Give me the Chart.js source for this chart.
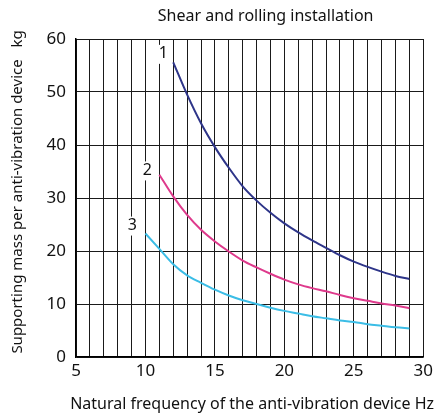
<!DOCTYPE html>
<html>
<head>
<meta charset="utf-8">
<script src="https://cdn.jsdelivr.net/npm/chart.js@4"></script>
<style>
  html, body { margin: 0; padding: 0; background: #fff; }
  #wrap { width: 437px; height: 416px; }
</style>
</head>
<body>
<div id="wrap"><canvas id="c" width="437" height="416"></canvas></div>
<script>
// values
const freq1 = [12, 13, 14, 15, 16, 17, 18, 19, 20, 21, 22, 23, 24, 25, 26, 27, 28, 29];
const mass1 = [55.6, 49.5, 44.1, 39.6, 35.7, 32.2, 29.5, 27.2, 25.2, 23.5, 22.0, 20.6, 19.2, 18.0, 17.0, 16.1, 15.3, 14.7];

const freq2 = [11, 12, 13, 14, 15, 16, 17, 18, 19, 20, 21, 22, 23, 24, 25, 26, 27, 28, 29];
const mass2 = [34.4, 30.3, 26.8, 24.0, 21.8, 19.9, 18.2, 16.9, 15.7, 14.6, 13.7, 13.0, 12.4, 11.7, 11.1, 10.6, 10.1, 9.7, 9.2];

const freq3 = [10, 11, 12, 13, 14, 15, 16, 17, 18, 19, 20, 21, 22, 23, 24, 25, 26, 27, 28, 29];
const mass3 = [23.3, 20.4, 17.5, 15.4, 14.0, 12.7, 11.6, 10.7, 10.0, 9.3, 8.7, 8.2, 7.7, 7.3, 6.9, 6.6, 6.2, 5.9, 5.6, 5.4];

const curveNames = ['1', '2', '3'];
const curveColors = ['#2e3589', '#de3a8c', '#3bbde6'];
// where each curve number sits (data coords)
const nameX = [11.28, 10.14, 9.06];
const nameY = [57.2, 35.2, 24.8];

const xTicks = [5, 10, 15, 20, 25, 30];
const yTicks = [0, 10, 20, 30, 40, 50, 60];

const titleText = 'Shear and rolling installation';
const xTitle = 'Natural frequency of the anti-vibration device Hz';
const yTitle = 'Supporting mass per anti-vibration device   kg';

const FONT = '"Noto Sans", "DejaVu Sans", sans-serif';

function toPoints(xs, ys) {
  return xs.map((x, i) => ({ x: x, y: ys[i] }));
}

// curve numbers, chart title and axis titles (axis titles drawn here so they are not squeezed)
const textLayer = {
  id: 'textLayer',
  afterDatasetsDraw(chart) {
    const { ctx, scales: { x, y }, chartArea } = chart;
    const midX = (chartArea.left + chartArea.right) / 2;
    const midY = (chartArea.top + chartArea.bottom) / 2;
    ctx.save();
    ctx.font = '16px ' + FONT;
    ctx.textAlign = 'center';
    ctx.textBaseline = 'middle';
    curveNames.forEach((n, i) => {
      const px = x.getPixelForValue(nameX[i]);
      const py = y.getPixelForValue(nameY[i]);
      ctx.fillStyle = '#fff';
      ctx.fillRect(px - 6, py - 9, 12, 19);
      ctx.fillStyle = '#111';
      ctx.fillText(n, px, py);
    });
    ctx.fillStyle = '#111';
    ctx.font = '16px ' + FONT;
    ctx.fillText(titleText, midX + 16, 16);
    ctx.fillText(xTitle, midX + 2.5, 404);
    ctx.translate(18, midY - 6);
    ctx.rotate(-Math.PI / 2);
    ctx.font = '15px ' + FONT;
    ctx.fillText(yTitle, 0, 0);
    ctx.restore();
  }
};

new Chart(document.getElementById('c'), {
  type: 'line',
  data: {
    datasets: [mass1, mass2, mass3].map((m, i) => ({
      label: curveNames[i],
      data: toPoints([freq1, freq2, freq3][i], m),
      borderColor: curveColors[i],
      borderWidth: 2,
      pointRadius: 0,
      fill: false,
      cubicInterpolationMode: 'monotone'
    }))
  },
  options: {
    responsive: false,
    animation: false,
    devicePixelRatio: 1,
    layout: { padding: { top: 39, right: 13, left: 0, bottom: 0 } },
    plugins: {
      legend: { display: false },
      title: { display: false },
      tooltip: { enabled: false }
    },
    scales: {
      x: {
        type: 'linear',
        min: 5,
        max: 30,
        afterBuildTicks(scale) {
          const t = [];
          for (let v = 5; v <= 30; v++) t.push({ value: v });
          scale.ticks = t;
        },
        afterFit(scale) { scale.height = 59; },
        grid: { color: '#1a1a1a', lineWidth: 1, drawTicks: false },
        border: { color: '#000', width: 1.5 },
        ticks: {
          color: '#111',
          font: { family: FONT, size: 17 },
          padding: 4,
          autoSkip: false,
          maxRotation: 0,
          callback: v => xTicks.includes(v) ? String(v) : ''
        }
      },
      y: {
        min: 0,
        max: 60,
        afterBuildTicks(scale) {
          scale.ticks = yTicks.map(v => ({ value: v }));
        },
        afterFit(scale) { scale.width = 76; },
        grid: { color: '#1a1a1a', lineWidth: 1, drawTicks: false },
        border: { color: '#000', width: 1.5 },
        ticks: {
          color: '#111',
          font: { family: FONT, size: 17 },
          padding: 10
        }
      }
    }
  },
  plugins: [textLayer]
});
</script>
</body>
</html>
